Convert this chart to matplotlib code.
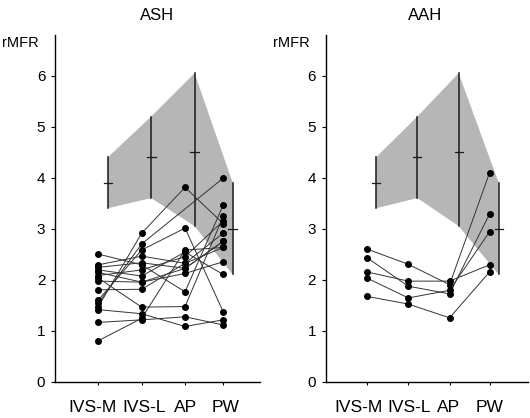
import numpy as np
import matplotlib
matplotlib.use("Agg")
import matplotlib.pyplot as plt
import matplotlib.transforms as mtransforms

plt.rcParams['font.family'] = ['Liberation Sans', 'DejaVu Sans']

categories = ["IVS-M", "IVS-L", "AP", "PW"]
yticks = [0, 1, 2, 3, 4, 5, 6]

# ASH patients (nan = not measured)
ash_ivsm = [1.47, 1.54, 1.60, 2.50, 0.80, 1.16, 1.41, 2.03, 2.29, 2.24, 2.19, 2.14, 1.97, 1.80, 2.08]
ash_ivsl = [2.91, 2.70, 2.58, 2.29, 1.24, 1.21, 1.33, 1.46, 2.46, 2.33, 2.07, 1.95, 1.95, 1.81, 2.19]
ash_ap   = [3.81, np.nan, 3.01, 1.76, 2.58, 1.27, 1.08, 1.47, 2.32, 2.22, 2.54, 2.12, 2.22, 2.32, 2.45]
ash_pw   = [3.10, 3.99, 1.37, 3.46, 2.63, 1.11, 1.21, 3.24, 2.91, 2.75, 2.10, 2.35, 2.75, 2.63, 3.15]

# AAH patients
aah_ivsm = [2.60, 2.43, 2.15, 2.03, 1.67]
aah_ivsl = [2.30, 1.87, 1.97, 1.64, 1.52]
aah_ap   = [1.90, 1.72, 1.97, 1.79, 1.25]
aah_pw   = [4.10, 3.29, 2.29, 2.94, 2.15]

# normal range (mean, low, high)
norm_mean = [3.90, 4.40, 4.50, 3.00]
norm_low  = [3.40, 3.60, 3.05, 2.10]
norm_high = [4.40, 5.20, 6.05, 3.90]

W, H = 530, 418
fig = plt.figure(figsize=(W / 100, H / 100), dpi=100)

def draw(ax, pos, ivsm, ivsl, ap, pw, title, xmax, title_x, label_shift):
    pos = np.array(pos)
    off = 0.22
    bx = pos + off
    # shaded normal range
    px = np.concatenate([bx, bx[::-1]])
    py = np.concatenate([norm_high, norm_low[::-1]])
    ax.fill(px, py, color='#b6b6b6', lw=0, zorder=1)
    for x, lo, hi, m in zip(bx, norm_low, norm_high, norm_mean):
        ax.plot([x, x], [lo, hi], color='#1a1a1a', lw=1.1, zorder=2)
        ax.plot([x - 0.1, x + 0.1], [m, m], color='#1a1a1a', lw=0.9, zorder=2)
    data = np.array([ivsm, ivsl, ap, pw], dtype=float).T
    for row in data:
        m = ~np.isnan(row)
        ax.plot(pos[m], row[m], color='#333333', lw=0.7, zorder=3,
                marker='o', ms=4.0, mfc='black', mec='black')
    ax.set_xlim(0, xmax)
    ax.set_ylim(0, 6.8)
    ax.set_yticks(yticks)
    ax.set_yticklabels([str(t) for t in yticks], fontsize=11)
    ax.set_xticks(pos)
    ax.set_xticklabels(categories, fontsize=12.5)
    ax.tick_params(axis='x', length=2, width=0.8, pad=11)
    ax.tick_params(axis='y', length=3, width=0.8, pad=4)
    for lab, dx in zip(ax.get_xticklabels(), label_shift):
        lab.set_transform(lab.get_transform() +
                          mtransforms.ScaledTranslation(dx / 100, 0, fig.dpi_scale_trans))
    for s in ['top', 'right']:
        ax.spines[s].set_visible(False)
    for s in ['left', 'bottom']:
        ax.spines[s].set_linewidth(1.0)
    fig.text(title_x, 1 - 16 / H, title, ha='center', va='center', fontsize=12)

b = 1 - 381.5 / H
h = (381.5 - 35) / H
ax1 = fig.add_axes([55 / W, b, 205 / W, h])
draw(ax1, [1, 2, 3, 3.88], ash_ivsm, ash_ivsl, ash_ap, ash_pw, "ASH", 4.73, 157 / W,
     [-6, 2, 1, 2])
fig.text(20 / W, 1 - 43 / H, "rMFR", ha='center', va='center', fontsize=10.5)

ax2 = fig.add_axes([325.7 / W, b, 202.3 / W, h])
draw(ax2, [1, 2, 3, 3.97], aah_ivsm, aah_ivsl, aah_ap, aah_pw, "AAH", 4.9, 425 / W,
     [-8, 1, -1, 0])
fig.text(291 / W, 1 - 43 / H, "rMFR", ha='center', va='center', fontsize=10.5)

fig.savefig("out.png", dpi=100)
